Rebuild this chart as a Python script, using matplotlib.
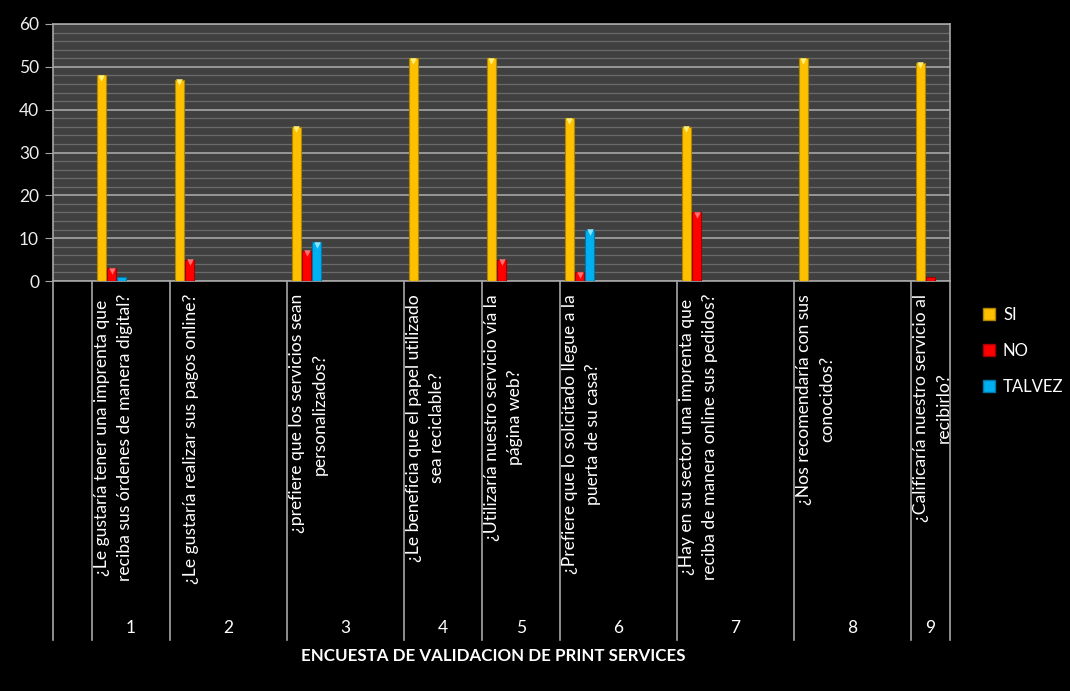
import numpy as np
import matplotlib
matplotlib.use("Agg")
import matplotlib.pyplot as plt
from matplotlib.lines import Line2D
from matplotlib.patches import Patch

plt.rcParams['font.family'] = ['Lato', 'DejaVu Sans']

# survey questions (as wrapped in the original chart)
questions = [
    "¿Le gustaría tener una imprenta que\nreciba sus órdenes de manera digital?",
    "¿Le gustaría realizar sus pagos online?",
    "¿prefiere que los servicios sean\npersonalizados?",
    "¿Le beneficia que el papel utilizado\nsea reciclable?",
    "¿Utilizaría nuestro servicio vía la\npágina web?",
    "¿Prefiere que lo solicitado llegue a la\npuerta de su casa?",
    "¿Hay en su sector una imprenta que\nreciba de manera online sus pedidos?",
    "¿Nos recomendaría con sus\nconocidos?",
    "¿Calificaría nuestro servicio al\nrecibirlo?",
]
numbers = ["1", "2", "3", "4", "5", "6", "7", "8", "9"]
si     = [48, 47, 36, 52, 52, 38, 36, 52, 51]
no     = [3, 5, 7, 0, 5, 2, 16, 0, 1]
talvez = [1, 0, 9, 0, 0, 12, 0, 0, 0]
series_names = ["SI", "NO", "TALVEZ"]
title = "ENCUESTA DE VALIDACION DE PRINT SERVICES"

# layout: the excel sheet had blank rows, so each group spans several category slots
lead_slots = 1
group_slots = [2, 3, 3, 2, 2, 3, 3, 3, 1]

colors = ["#FFC000", "#FF0000", "#00B0F0"]
edges = ["#B08600", "#A00000", "#0078A8"]
tops = ["#FFF07A", "#FF7070", "#8CE6FF"]

fig = plt.figure(figsize=(10.70, 6.91), dpi=100, facecolor="black")
ax = fig.add_axes([53/1070, 1-281/691, (950-53)/1070, (281-24)/691])
ax.set_facecolor("#404040")

starts = lead_slots + np.concatenate([[0], np.cumsum(group_slots)[:-1]])
centers = starts + 0.5
w = 0.26
for k, (vals, c, ec, tc) in enumerate(zip([si, no, talvez], colors, edges, tops)):
    xs = centers + (k-1)*w
    ax.bar(xs, vals, width=w*0.95, color=c, edgecolor=ec, linewidth=0.8, zorder=3)
    # little bevel highlight at the top of each bar
    v = np.array(vals, dtype=float)
    m = v >= 1.5
    ax.scatter(xs[m], v[m] - 0.55, marker='v', s=22, color=tc, linewidths=0, zorder=4)

total = lead_slots + sum(group_slots)
ax.set_xlim(0, total)
ax.set_ylim(0, 60)
ax.set_yticks(np.arange(0, 61, 10))
ax.set_yticks(np.arange(0, 61, 2), minor=True)
ax.grid(axis='y', which='major', color="#A6A6A6", linewidth=1.2, zorder=1)
ax.grid(axis='y', which='minor', color="#6A6A6A", linewidth=0.9, zorder=0)
ax.tick_params(axis='y', which='major', colors="#A6A6A6", labelcolor="#EEEEEE",
               labelsize=12.5, length=6, pad=4)
ax.tick_params(axis='y', which='minor', length=0)
ax.set_xticks([])
for s in ax.spines.values():
    s.set_color("#A6A6A6")
    s.set_linewidth(1.2)

# category separators below the axis
depth = (640-281)/(281-24)
bounds = np.concatenate([[0], lead_slots + np.cumsum(np.concatenate([[0], group_slots]))])
trans = ax.get_xaxis_transform()
for b in bounds:
    ax.add_line(Line2D([b, b], [0, -depth], transform=trans, color="#A6A6A6",
                       linewidth=1.2, clip_on=False))

for i, q in enumerate(questions):
    ax.text(centers[i] + 0.05, -13/257, q, transform=trans, rotation=90, ha='center',
            va='top', multialignment='center', color='white', fontsize=12.6,
            linespacing=1.55)
    mid = starts[i] + group_slots[i]/2
    ax.text(mid, -(628-281)/257, numbers[i], transform=trans, ha='center',
            va='center', color='white', fontsize=12.5)

fig.text(493/1070, 1-656/691, title, ha='center', va='center', color='white',
         fontsize=12.2, fontweight='bold')

handles = [Patch(facecolor=c, edgecolor=ec) for c, ec in zip(colors, edges)]
fig.legend(handles, series_names, loc='upper left',
           bbox_to_anchor=(968/1070, 1-292/691), frameon=False,
           labelcolor='white', fontsize=12, handlelength=0.7,
           handleheight=0.7, labelspacing=1.2, handletextpad=0.5)

fig.savefig("out.png", dpi=100, facecolor="black")
